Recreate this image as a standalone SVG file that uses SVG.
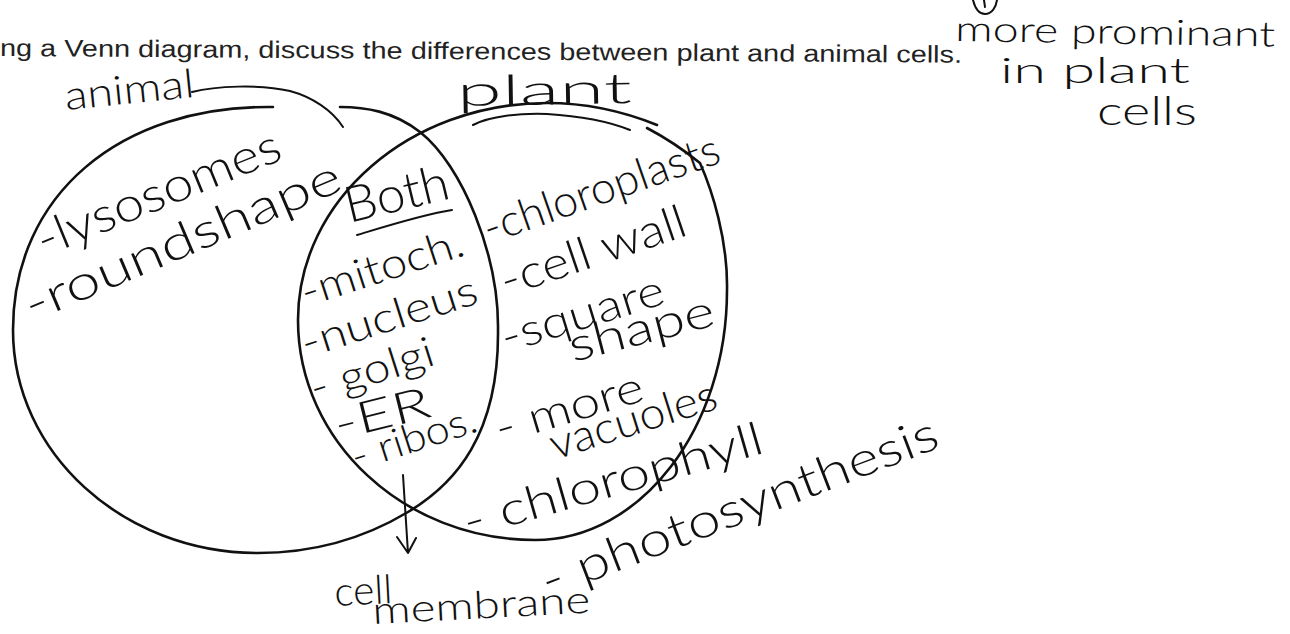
<svg xmlns="http://www.w3.org/2000/svg" width="1290" height="634" viewBox="0 0 1290 634">
<defs>
<style>
.hw{font-family:Lato,"Liberation Sans",sans-serif;font-weight:300;fill:#111;}
.pr{font-family:"Liberation Sans",Arial,sans-serif;fill:#222;}
.pen{fill:none;stroke:#111;stroke-width:2.6;stroke-linecap:round;stroke-linejoin:round;}
.thin{fill:none;stroke:#111;stroke-width:2;stroke-linecap:round;stroke-linejoin:round;}
</style>
</defs>
<rect width="1290" height="634" fill="#fff"/>

<g id="header">
<text class="pr" x="0" y="56" font-size="24" textLength="962" lengthAdjust="spacingAndGlyphs" transform="rotate(0.4 0 56)">ng a Venn diagram, discuss the differences between plant and animal cells.</text>
</g>

<g id="shapes">
<path id="animal-circle" class="pen" d="M273,107 C120,105 13,195 13,330 C13,453 123,553 258,553 C308,553 358,542 408,512 C455,484 499,435 498,330 C499,255 462,165 420,132 C393,111 365,107 340,107"/>
<path id="plant-circle" class="pen" d="M657,125 C625,112 590,103 547,103 C410,103 298,200 298,320 C298,441 404,540 535,540 C641,540 727,428 727,290 C728,240 712,190 700,163 C690,155 670,140 647,128"/>
<path id="animal-brace" class="thin" d="M192,92 C215,86 260,84 290,91 C312,97 332,110 343,127"/>
<path id="plant-underline" class="thin" d="M473,125 C490,116 520,113 547,114 C580,116 610,122 630,130"/>
<path id="both-underline" class="thin" d="M357,235 C390,225 425,214 452,210"/>
<path id="top-mark" class="thin" d="M973,0 C975,8 979,14 985,14 C992,14 996,7 997,0 M984,0 L985,7"/>
</g>

<g id="connectors">
<path class="thin" d="M403,475 L408,553 M397,537 L408,553 L416,538"/>
</g>

<g id="node-animal">
<text class="hw" x="66" y="110" font-size="40" textLength="130" lengthAdjust="spacingAndGlyphs" transform="rotate(-5.8 66 110)">animal</text>
<text class="hw" x="44" y="257" font-size="48" textLength="260" lengthAdjust="spacingAndGlyphs" transform="rotate(-22.2 44 257)">-lysosomes</text>
<text class="hw" x="32" y="322" font-size="48" textLength="340" lengthAdjust="spacingAndGlyphs" transform="rotate(-23 32 322)">-roundshape</text>
</g>

<g id="node-plant">
<text class="hw" x="457" y="106" font-size="42" textLength="175" lengthAdjust="spacingAndGlyphs" transform="rotate(-1 457 106)">plant</text>
<text class="hw" x="489" y="244" font-size="44" textLength="248" lengthAdjust="spacingAndGlyphs" transform="rotate(-19.3 489 244)">-chloroplasts</text>
<text class="hw" x="506" y="297" font-size="46" textLength="194" lengthAdjust="spacingAndGlyphs" transform="rotate(-18.8 506 297)">-cell wall</text>
<text class="hw" x="506" y="353" font-size="44" textLength="169" lengthAdjust="spacingAndGlyphs" transform="rotate(-17.2 506 353)">-square</text>
<text class="hw" x="573" y="362" font-size="46" textLength="149" lengthAdjust="spacingAndGlyphs" transform="rotate(-14.4 573 362)">shape</text>
<text class="hw" x="500" y="444" font-size="44" textLength="153" lengthAdjust="spacingAndGlyphs" transform="rotate(-16.7 500 444)">- more</text>
<text class="hw" x="555" y="460" font-size="44" textLength="173" lengthAdjust="spacingAndGlyphs" transform="rotate(-17.5 555 460)">vacuoles</text>
<text class="hw" x="468" y="538" font-size="46" textLength="310" lengthAdjust="spacingAndGlyphs" transform="rotate(-16 468 538)">- chlorophyll</text>
<text class="hw" x="548" y="598" font-size="48" textLength="422" lengthAdjust="spacingAndGlyphs" transform="rotate(-21 548 598)">- photosynthesis</text>
</g>

<g id="node-both">
<text class="hw" x="349" y="223" font-size="50" textLength="106" lengthAdjust="spacingAndGlyphs" transform="rotate(-13.5 349 223)">Both</text>
<text class="hw" x="306" y="307" font-size="42" textLength="169" lengthAdjust="spacingAndGlyphs" transform="rotate(-18 306 307)">-mitoch.</text>
<text class="hw" x="306" y="358" font-size="42" textLength="183" lengthAdjust="spacingAndGlyphs" transform="rotate(-17.6 306 358)">-nucleus</text>
<text class="hw" x="315" y="403" font-size="42" textLength="128" lengthAdjust="spacingAndGlyphs" transform="rotate(-17.6 315 403)">- golgi</text>
<text class="hw" x="338" y="440" font-size="44" textLength="98" lengthAdjust="spacingAndGlyphs" transform="rotate(-14 338 440)">-ER</text>
<text class="hw" x="356" y="471" font-size="40" textLength="130" lengthAdjust="spacingAndGlyphs" transform="rotate(-18 356 471)">- ribos.</text>
</g>

<g id="node-membrane">
<text class="hw" x="335" y="606" font-size="40" textLength="58" lengthAdjust="spacingAndGlyphs" transform="rotate(-3 335 606)">cell</text>
<text class="hw" x="373" y="624" font-size="38" textLength="218" lengthAdjust="spacingAndGlyphs" transform="rotate(-3 373 624)">membrane</text>
</g>

<g id="node-note">
<text class="hw" x="955" y="41" font-size="35" textLength="320" lengthAdjust="spacingAndGlyphs" transform="rotate(1 955 41)">more prominant</text>
<text class="hw" x="1000" y="83" font-size="36" textLength="190" lengthAdjust="spacingAndGlyphs">in plant</text>
<text class="hw" x="1097" y="125" font-size="40" textLength="100" lengthAdjust="spacingAndGlyphs">cells</text>
</g>
</svg>
